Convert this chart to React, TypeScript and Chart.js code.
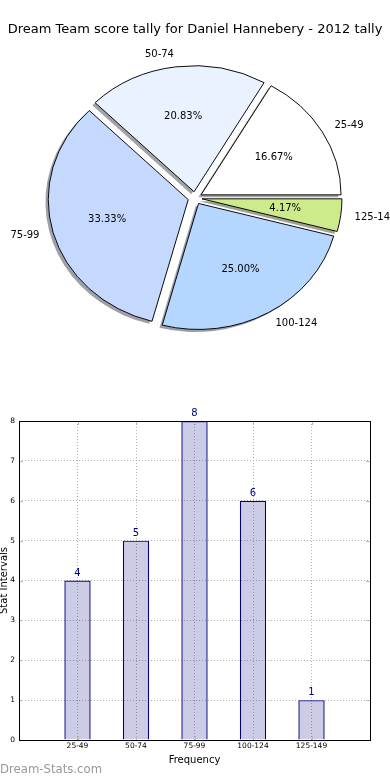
import React, { useEffect, useRef } from 'react';
import { Chart, registerables } from 'chart.js';

Chart.register(...registerables);

// ---------- data ----------
const TITLE = 'Dream Team score tally for Daniel Hannebery - 2012 tally';
const categories = ['25-49', '50-74', '75-99', '100-124', '125-149'];
const counts = [4, 5, 8, 6, 1];
const pieColors = ['#ffffff', '#eaf1ff', '#c5d9ff', '#b4d6ff', '#cdeb8b'];
const yTicks = [0, 1, 2, 3, 4, 5, 6, 7, 8];
const X_LABEL = 'Frequency';
const Y_LABEL = 'Stat Intervals';
const WATERMARK = 'Dream-Stats.com';

// ---------- style ----------
const FONT = "'DejaVu Sans', sans-serif";
const PIE_R = 140;
const SQUASH = 0.9;
const EXPLODE = 0.05;
const W = 390;
const PIE_H = 396;
const BAR_TOP = 400;
const BAR_H = 380;

Chart.defaults.font.family = FONT;

const total = counts.reduce((a, b) => a + b, 0);
// Chart.js draws clockwise, matplotlib counter-clockwise: reverse order
const pieLabels = [...categories].reverse();
const pieValues = [...counts].reverse();
const pieFill = [...pieColors].reverse();

function hexRgb(h: string) {
  const n = parseInt(h.slice(1), 16);
  return [(n >> 16) & 255, (n >> 8) & 255, n & 255];
}

const piePlugin = {
  id: 'pieDecor',
  afterDatasetUpdate(chart: any, args: any) {
    const meta = chart.getDatasetMeta(args.index);
    meta.data.forEach((arc: any) => {
      const mid = (arc.startAngle + arc.endAngle) / 2;
      const d = arc.outerRadius * EXPLODE;
      arc.x += Math.cos(mid) * d;
      arc.y += Math.sin(mid) * d;
    });
  },
  beforeDatasetsDraw(chart: any) {
    const { ctx, chartArea } = chart;
    const cx = (chartArea.left + chartArea.right) / 2;
    const cy = (chartArea.top + chartArea.bottom) / 2;
    ctx.save();
    ctx.translate(cx, cy);
    ctx.scale(1, SQUASH);
    ctx.translate(-cx, -cy);
    const meta = chart.getDatasetMeta(0);
    meta.data.forEach((arc: any, i: number) => {
      const [r, g, b] = hexRgb(pieFill[i]);
      const R = arc.outerRadius;
      const sx = arc.x - 0.02 * R;
      const sy = arc.y + 0.02 * R;
      ctx.fillStyle = `rgba(${Math.round(r * 0.3)},${Math.round(g * 0.3)},${Math.round(b * 0.3)},0.5)`;
      ctx.beginPath();
      ctx.moveTo(sx, sy);
      ctx.arc(sx, sy, R, arc.startAngle, arc.endAngle);
      ctx.closePath();
      ctx.fill();
    });
  },
  afterDatasetsDraw(chart: any) {
    const { ctx, chartArea } = chart;
    ctx.restore();
    const cy = (chartArea.top + chartArea.bottom) / 2;
    const meta = chart.getDatasetMeta(0);
    ctx.save();
    ctx.fillStyle = '#000';
    ctx.font = `10px ${FONT}`;
    ctx.textBaseline = 'middle';
    meta.data.forEach((arc: any, i: number) => {
      const mid = (arc.startAngle + arc.endAngle) / 2;
      const ux = Math.cos(mid);
      const uy = Math.sin(mid);
      const R = arc.outerRadius;
      const lx = arc.x + 1.1 * R * ux;
      const ly = cy + (arc.y + 1.1 * R * uy - cy) * SQUASH;
      ctx.textAlign = ux > 0 ? 'left' : 'right';
      ctx.fillText(pieLabels[i], lx, ly);
      const px = arc.x + 0.6 * R * ux;
      const py = cy + (arc.y + 0.6 * R * uy - cy) * SQUASH;
      ctx.textAlign = 'center';
      ctx.fillText(((pieValues[i] / total) * 100).toFixed(2) + '%', px, py);
    });
    ctx.restore();
  },
  afterDraw(chart: any) {
    const { ctx } = chart;
    ctx.save();
    ctx.fillStyle = '#000';
    ctx.font = `13px ${FONT}`;
    ctx.textAlign = 'center';
    ctx.textBaseline = 'middle';
    ctx.fillText(TITLE, W / 2, 30);
    ctx.restore();
  },
};

const barPlugin = {
  id: 'barDecor',
  afterDatasetsDraw(chart: any) {
    const { ctx, chartArea, scales } = chart;
    const meta = chart.getDatasetMeta(0);
    ctx.save();
    // inward tick marks on all four sides
    ctx.strokeStyle = '#b8b8b8';
    ctx.lineWidth = 1;
    ctx.beginPath();
    categories.forEach((_, i) => {
      const x = Math.round(scales.x.getPixelForValue(i + 1)) + 0.5;
      ctx.moveTo(x, chartArea.top);
      ctx.lineTo(x, chartArea.top + 4);
      ctx.moveTo(x, chartArea.bottom);
      ctx.lineTo(x, chartArea.bottom - 4);
    });
    yTicks.forEach((v) => {
      const y = Math.round(scales.y.getPixelForValue(v)) + 0.5;
      ctx.moveTo(chartArea.left, y);
      ctx.lineTo(chartArea.left + 4, y);
      ctx.moveTo(chartArea.right, y);
      ctx.lineTo(chartArea.right - 4, y);
    });
    ctx.stroke();

    ctx.fillStyle = '#000080';
    ctx.font = `10px ${FONT}`;
    ctx.textAlign = 'center';
    ctx.textBaseline = 'alphabetic';
    meta.data.forEach((bar: any, i: number) => {
      ctx.fillText(String(counts[i]), bar.x, bar.y - 5);
    });
    // axes box
    ctx.strokeStyle = '#000';
    ctx.lineWidth = 1;
    ctx.strokeRect(
      chartArea.left + 0.5,
      chartArea.top + 0.5,
      chartArea.right - chartArea.left,
      chartArea.bottom - chartArea.top
    );
    ctx.restore();
  },
  afterDraw(chart: any) {
    const { ctx } = chart;
    ctx.save();
    ctx.fillStyle = '#999999';
    ctx.font = `11.7px ${FONT}`;
    ctx.textAlign = 'left';
    ctx.textBaseline = 'middle';
    ctx.fillText(WATERMARK, 0, 370);
    ctx.restore();
  },
};

export default function App() {
  const pieRef = useRef<HTMLCanvasElement>(null);
  const barRef = useRef<HTMLCanvasElement>(null);

  useEffect(() => {
    const pie = new Chart(pieRef.current as HTMLCanvasElement, {
      type: 'pie',
      data: {
        labels: pieLabels,
        datasets: [
          {
            data: pieValues,
            backgroundColor: pieFill,
            borderColor: '#000',
            borderWidth: 1,
            radius: PIE_R,
          } as any,
        ],
      },
      options: {
        responsive: false,
        animation: false,
        rotation: 90,
        layout: { padding: 0 },
        plugins: { legend: { display: false }, tooltip: { enabled: false } },
      } as any,
      plugins: [piePlugin],
    });

    const bar = new Chart(barRef.current as HTMLCanvasElement, {
      type: 'bar',
      data: {
        datasets: [
          {
            data: counts.map((v, i) => ({ x: i + 1, y: v })),
            backgroundColor: 'rgba(0,0,128,0.2)',
            borderColor: '#000080',
            borderWidth: 1.2,
            barPercentage: 0.45,
            categoryPercentage: 1,
          } as any,
        ],
      },
      options: {
        responsive: false,
        animation: false,
        layout: { padding: { top: 21, right: 20, left: 0, bottom: 0 } },
        plugins: { legend: { display: false }, tooltip: { enabled: false } },
        scales: {
          x: {
            type: 'linear',
            min: 0,
            max: categories.length + 1,
            offset: false,
            grid: { offset: false, drawTicks: false, color: '#b0b0b0', lineWidth: 1 },
            border: { display: false, dash: [1, 2] },
            ticks: {
              stepSize: 1,
              autoSkip: false,
              maxRotation: 0,
              padding: 2,
              color: '#000',
              font: { size: 7.5 },
              callback: (v: any) => categories[Number(v) - 1] ?? '',
            },
            title: {
              display: true,
              text: X_LABEL,
              color: '#000',
              font: { size: 10 },
              padding: { top: 0, bottom: 14 },
            },
            afterFit: (s: any) => {
              s.height = 40;
            },
          },
          y: {
            min: yTicks[0],
            max: yTicks[yTicks.length - 1],
            grid: { drawTicks: false, color: '#b0b0b0', lineWidth: 1 },
            border: { display: false, dash: [1, 2] },
            ticks: { stepSize: 1, padding: 4, color: '#000', font: { size: 7.5 } },
            afterBuildTicks: (s: any) => {
              s.ticks = yTicks.map((v) => ({ value: v }));
            },
            title: {
              display: true,
              text: Y_LABEL,
              color: '#000',
              font: { size: 10, lineHeight: 0.8 },
              padding: 0,
            },
            afterFit: (s: any) => {
              s.width = 19;
            },
          },
        },
      } as any,
      plugins: [barPlugin],
    });

    return () => {
      pie.destroy();
      bar.destroy();
    };
  }, []);

  return (
    <div
      style={{
        position: 'absolute',
        left: 0,
        top: 0,
        width: W,
        height: 780,
        background: '#fff',
        overflow: 'hidden',
      }}
    >
      <canvas
        ref={pieRef}
        width={W}
        height={PIE_H}
        style={{ position: 'absolute', left: 0, top: 0, width: W, height: PIE_H }}
      />
      <canvas
        ref={barRef}
        width={W}
        height={BAR_H}
        style={{ position: 'absolute', left: 0, top: BAR_TOP, width: W, height: BAR_H }}
      />
    </div>
  );
}
